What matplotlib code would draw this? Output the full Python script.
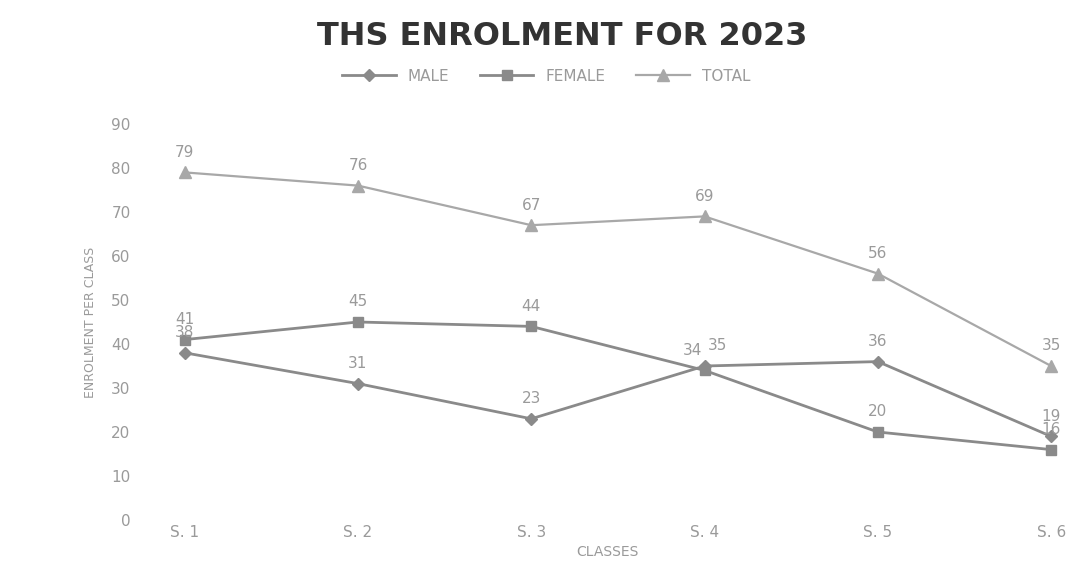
import matplotlib.pyplot as plt

classes = ["S. 1", "S. 2", "S. 3", "S. 4", "S. 5", "S. 6"]
male = [38, 31, 23, 35, 36, 19]
female = [41, 45, 44, 34, 20, 16]
total = [79, 76, 67, 69, 56, 35]

grey = "#8a8a8a"
text_grey = "#9a9a9a"

fig = plt.figure(figsize=(10.71, 5.64), dpi=100)
ax = fig.add_axes([150 / 1071, 44 / 564, 915 / 1071, 396 / 564])

x = range(len(classes))
ax.plot(x, male, color=grey, lw=2, marker="D", ms=6, label="MALE")
ax.plot(x, female, color=grey, lw=2, marker="s", ms=7, label="FEMALE")
ax.plot(x, total, color="#a8a8a8", lw=1.6, marker="^", ms=8, label="TOTAL")

# data labels above each point; the two labels at S. 4 sit side by side
for series, dx4 in ((male, 9), (female, -9), (total, 0)):
    for i, v in enumerate(series):
        dx = dx4 if i == 3 else 0
        ax.annotate(str(v), (i, v), xytext=(dx, 9), textcoords="offset points",
                    ha="center", va="bottom", fontsize=11, color=text_grey)

ax.set_xlim(-0.2, 5.08)
ax.set_ylim(0, 90)
ax.set_yticks(range(0, 91, 10))
ax.set_xticks(list(x))
ax.set_xticklabels(classes)
ax.tick_params(length=0, colors=text_grey, labelsize=11)
ax.tick_params(axis="y", pad=14)
for s in ax.spines.values():
    s.set_visible(False)

ax.set_xlabel("CLASSES", color=text_grey, fontsize=10, labelpad=4)
ax.set_ylabel("ENROLMENT PER CLASS", color=text_grey, fontsize=9, labelpad=10)

fig.text(0.525, 0.935, "THS ENROLMENT FOR 2023", ha="center", va="center",
         fontsize=23, fontweight="bold", color="#333333")
fig.legend(loc="center", bbox_to_anchor=(0.51, 0.865), ncol=3, frameon=False,
           fontsize=11, labelcolor=text_grey, handlelength=3.5, columnspacing=2)

fig.savefig("out.png", dpi=100)
